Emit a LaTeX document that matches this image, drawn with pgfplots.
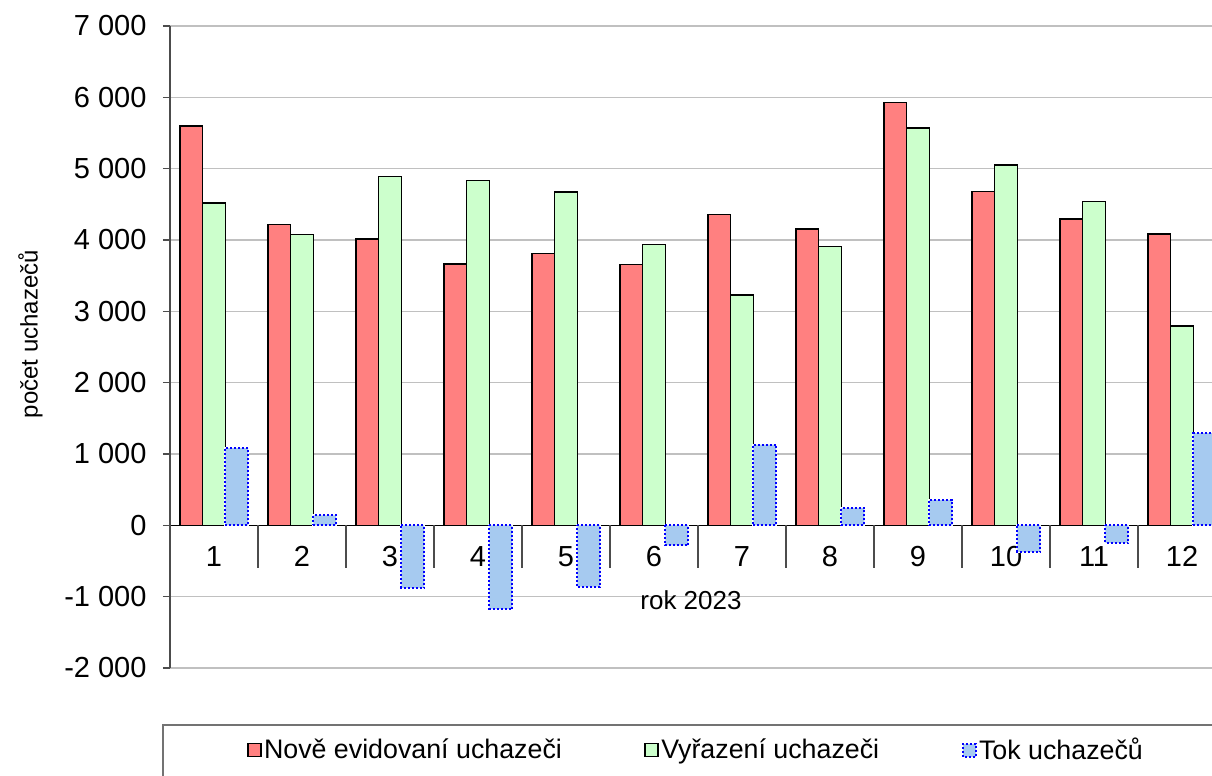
\documentclass[border=0pt]{standalone}
\usepackage{fontspec}
\setmainfont{Liberation Sans}
\usepackage{pgfplots}
\usepackage{pgfplotstable}
\pgfplotsset{compat=1.18}

\definecolor{novi}{HTML}{FF8080}
\definecolor{vyrazeni}{HTML}{CCFFCC}
\definecolor{tok}{HTML}{A6CAF0}
\definecolor{mrizka}{HTML}{C0C0C0}
\newcommand\cf{\fontsize{13}{15.6}\selectfont}
\newcommand\tf{\fontsize{14.5}{17}\selectfont}
\newcommand\lf{\fontsize{13.4}{16}\selectfont}
\pgfplotsset{ctverec/.style={legend image code/.code={\draw[##1] (0pt,-3.25pt) rectangle (6.5pt,3.25pt);}}}

% mesic, nove evidovani, vyrazeni, tok (= rozdil)
\pgfplotstableread{
m  nove  vyr   tok
1  5600  4518  1082
2  4220  4080  140
3  4014  4891  -877
4  3664  4835  -1171
5  3810  4671  -861
6  3656  3936  -280
7  4360  3227  1133
8  4154  3908  246
9  5926  5572  354
10 4677  5049  -372
11 4294  4541  -247
12 4084  2793  1291
}\data

\begin{document}
\begin{tikzpicture}
\begin{axis}[
    scale only axis,
    width=521pt, height=321pt,
    xmin=0.5, xmax=12.34,
    ymin=-2000, ymax=7000,
    axis y line=left, axis x line=middle,
    axis line style={-, line width=0.75pt},
    x axis line style={black},
    y axis line style={black!70},
    ybar=0pt, bar width=11.4pt,
    xtick={1,...,12},
    major x tick style={draw=none},
    xticklabel style={font=\tf, anchor=center, yshift=-12pt},
    ytick={-2000,-1000,...,7000},
    yticklabels={-2 000,-1 000,0,1 000,2 000,3 000,4 000,5 000,6 000,7 000},
    yticklabel style={font=\tf, xshift=-4.7pt},
    ytick align=outside, major tick length=3.5pt,
    major y tick style={black!70, line width=0.75pt},
    /pgf/number format/assume math mode=true,
    ymajorgrids, major grid style={draw=mrizka, line width=0.75pt},
    xlabel={rok 2023},
    xlabel style={font=\cf, at={(axis description cs:0.5,0.106)}, anchor=center},
    ylabel={počet uchazečů},
    ylabel style={font=\fontsize{12}{14}\selectfont, at={(axis description cs:-0.134,0.52)}, anchor=center, rotate=0},
    legend columns=3,
    legend style={at={(axis description cs:0.505,-0.128)}, anchor=center,
        draw=none, fill=none, font=\lf,
        nodes={inner xsep=1.2pt},
        /tikz/every even column/.append style={column sep=40pt}},
]
\addplot[fill=novi, draw=black, line width=0.75pt, ctverec]
    table[x=m, y=nove] {\data};
\addplot[fill=vyrazeni, draw=black, line width=0.75pt, ctverec]
    table[x=m, y=vyr] {\data};
\addplot[fill=tok, draw=white, line width=1pt,
    postaction={draw=blue, densely dotted, line width=1pt}, ctverec]
    table[x=m, y=tok] {\data};
\legend{Nově evidovaní uchazeči, Vyřazení uchazeči, Tok uchazečů}
% oddelovace kategorii pod osou x
\pgfplotsinvokeforeach{1.5,2.5,3.5,4.5,5.5,6.5,7.5,8.5,9.5,10.5,11.5}{
    \draw[black!70, line width=0.75pt] (axis cs:#1,0) -- ([yshift=-21.5pt]axis cs:#1,0);
}
\end{axis}
% ramecek legendy (oriznuty vpravo a dole)
\draw[black!55, line width=0.75pt] (-3.5pt,-80pt) |- (600pt,-28.5pt);
\pgfresetboundingbox
\path (-85pt,-54pt) rectangle (521pt,334pt);
\end{tikzpicture}
\end{document}
